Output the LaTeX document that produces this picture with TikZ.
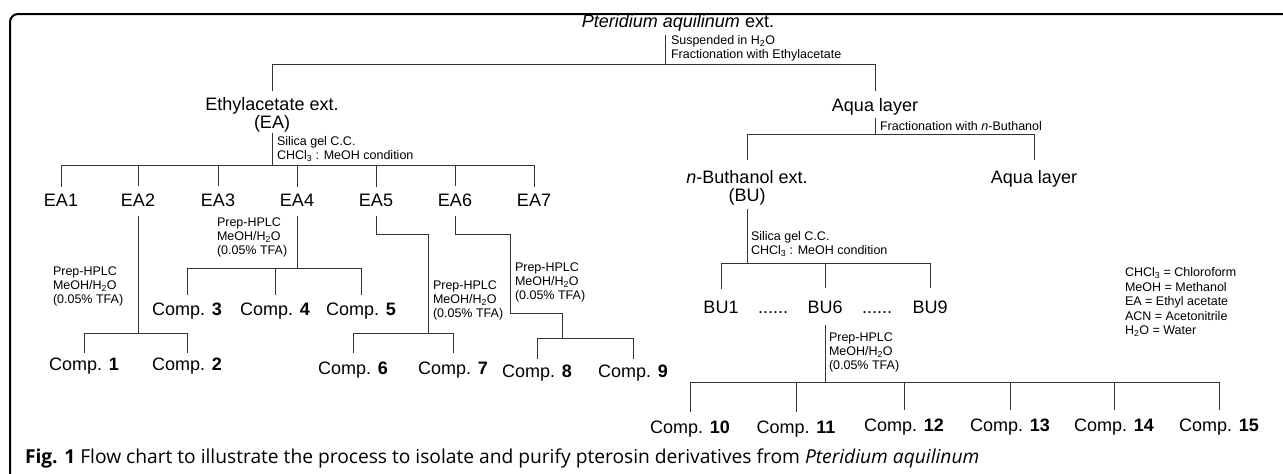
\documentclass[tikz,border=0pt]{standalone}
\usepackage{fontspec}
\setmainfont{Liberation Sans}
\newfontfamily\capfont{Open Sans}

\begin{document}
\begin{tikzpicture}[
      x=1pt, y=-1pt,
      every node/.style={inner sep=0pt, outer sep=0pt},
      big/.style={font=\fontsize{18}{18}\selectfont, anchor=base},
      note/.style={font=\fontsize{12.5}{14}\selectfont, align=left, anchor=west},
      branch/.style={draw=black!80, line width=1pt},
      stub/.style={branch, shorten >=7pt}
    ]
    \useasboundingbox (0,0) rectangle (1283,474);
    \draw[line width=2pt, rounded corners=8pt] (10,480) -- (10,14) -- (1290,14);

    \node[big] (root) at (678,27) {\textit{Pteridium aquilinum} ext.};
    \node[big, align=center, anchor=north] (EA) at (272,97) {Ethylacetate ext.\\(EA)};
    \node[big] (AQ) at (875,111) {Aqua layer};

    \node[big] (EA1) at (61,206) {EA1};
    \node[big] (EA2) at (138,206) {EA2};
    \node[big] (EA3) at (218,206) {EA3};
    \node[big] (EA4) at (297,206) {EA4};
    \node[big] (EA5) at (376,206) {EA5};
    \node[big] (EA6) at (455,206) {EA6};
    \node[big] (EA7) at (534,206) {EA7};

    \node[big] (C1) at (84,370) {Comp. \textbf{1}};
    \node[big] (C2) at (187,370) {Comp. \textbf{2}};
    \node[big] (C3) at (187,315) {Comp. \textbf{3}};
    \node[big] (C4) at (275,315) {Comp. \textbf{4}};
    \node[big] (C5) at (361,315) {Comp. \textbf{5}};
    \node[big] (C6) at (353,374) {Comp. \textbf{6}};
    \node[big] (C7) at (453,374) {Comp. \textbf{7}};
    \node[big] (C8) at (537,377) {Comp. \textbf{8}};
    \node[big] (C9) at (633,377) {Comp. \textbf{9}};

    \node[big, align=center, anchor=north] (BU) at (747,170) {\textit{n}-Buthanol ext.\\(BU)};
    \node[big] (AQ2) at (1034,183) {Aqua layer};
    \node[big] (BU1) at (721,313) {BU1};
    \node[big] (dotsA) at (773,313) {......};
    \node[big] (BU6) at (825,313) {BU6};
    \node[big] (dotsB) at (877,313) {......};
    \node[big] (BU9) at (930,313) {BU9};

    \node[big] (C10) at (690,433) {Comp. \textbf{10}};
    \node[big] (C11) at (796,433) {Comp. \textbf{11}};
    \node[big] (C12) at (904,431) {Comp. \textbf{12}};
    \node[big] (C13) at (1010,431) {Comp. \textbf{13}};
    \node[big] (C14) at (1114,431) {Comp. \textbf{14}};
    \node[big] (C15) at (1219,431) {Comp. \textbf{15}};

    \node[note] (rootnote) at (671,48) {Suspended in H\textsubscript{2}O\\Fractionation with Ethylacetate};
    \node[note] (eanote) at (277,149) {Silica gel C.C.\\CHCl\textsubscript{3} : MeOH condition};
    \node[note] (aqnote) at (880,126) {Fractionation with \textit{n}-Buthanol};
    \node[note] (bunote) at (751,244) {Silica gel C.C.\\CHCl\textsubscript{3} : MeOH condition};
    \node[note] (ea2note) at (53,286) {Prep-HPLC\\MeOH/H\textsubscript{2}O\\(0.05\% TFA)};
    \node[note] (ea4note) at (217,237) {Prep-HPLC\\MeOH/H\textsubscript{2}O\\(0.05\% TFA)};
    \node[note] (ea5note) at (433,300) {Prep-HPLC\\MeOH/H\textsubscript{2}O\\(0.05\% TFA)};
    \node[note] (ea6note) at (515,282) {Prep-HPLC\\MeOH/H\textsubscript{2}O\\(0.05\% TFA)};
    \node[note] (bu6note) at (829,352) {Prep-HPLC\\MeOH/H\textsubscript{2}O\\(0.05\% TFA)};
    \node[note, font=\fontsize{12.5}{14.5}\selectfont] (legend) at (1125,302) {CHCl\textsubscript{3} = Chloroform\\MeOH = Methanol\\EA = Ethyl acetate\\ACN = Acetonitrile\\H\textsubscript{2}O = Water};

    \node[anchor=base west, font=\capfont\fontsize{19.2}{22}\selectfont] (caption) at (25,463) {\textbf{Fig. 1} Flow chart to illustrate the process to isolate and purify pterosin derivatives from \textit{Pteridium aquilinum}};

    \coordinate (rootbar) at (665,64);
    \draw[branch, shorten <=4pt] (root.south -| rootbar) -- (rootbar);
    \draw[stub, shorten >=6pt] (rootbar) -| (EA.north);
    \draw[stub] (rootbar) -| (AQ.north);

    \coordinate (eabar) at (272,165);
    \draw[branch, shorten <=1pt] (EA.south) -- (eabar);
    \draw[stub] (eabar) -| (EA1.north);
    \draw[stub] (eabar) -| (EA2.north);
    \draw[stub] (eabar) -| (EA3.north);
    \draw[stub] (eabar) -| (EA4.north);
    \draw[stub] (eabar) -| (EA5.north);
    \draw[stub] (eabar) -| (EA6.north);
    \draw[stub] (eabar) -| (EA7.north);

    \coordinate (ea2bar) at (138,333);
    \draw[branch, shorten <=10pt] (EA2.south) -- (ea2bar);
    \draw[stub, shorten >=4pt] (ea2bar) -| (C1.north);
    \draw[stub, shorten >=4pt] (ea2bar) -| (C2.north);

    \coordinate (ea4bar) at (297,268);
    \draw[branch, shorten <=10pt] (EA4.south) -- (ea4bar);
    \draw[stub] (ea4bar) -| (C3.north);
    \draw[stub] (ea4bar) -| (C4.north);
    \draw[stub] (ea4bar) -| (C5.north);

    \coordinate (ea5bend) at (428,234);
    \coordinate (ea5bar) at (428,333);
    \draw[branch, shorten <=10pt] (EA5.south) |- (ea5bend) -- (ea5bar);
    \draw[stub, shorten >=8pt] (ea5bar) -| (C6.north);
    \draw[stub, shorten >=8pt] (ea5bar) -| (C7.north);

    \coordinate (ea6bend) at (510,234);
    \coordinate (ea6step) at (562,313);
    \coordinate (ea6bar) at (562,338);
    \draw[branch, shorten <=10pt] (EA6.south) |- (ea6bend) |- (ea6step) -- (ea6bar);
    \draw[stub, shorten >=5pt] (ea6bar) -| (C8.north);
    \draw[stub, shorten >=5pt] (ea6bar) -| (C9.north);

    \coordinate (aqbar) at (875,134);
    \draw[branch, shorten <=3pt] (AQ.south) -- (aqbar);
    \draw[stub, shorten >=10pt] (aqbar) -| (BU.north);
    \draw[stub, shorten >=10pt] (aqbar) -| (AQ2.north);

    \coordinate (bubar) at (747,263);
    \draw[branch, shorten <=4pt] (BU.south) -- (bubar);
    \draw[stub, shorten >=12pt] (bubar) -| (BU1.north);
    \draw[stub, shorten >=12pt] (bubar) -| (BU6.north);
    \draw[stub, shorten >=12pt] (bubar) -| (BU9.north);

    \coordinate (bu6bar) at (825,382);
    \draw[branch, shorten <=12pt] (BU6.south) -- (bu6bar);
    \draw[stub, shorten >=8pt] (bu6bar) -| (C10.north);
    \draw[stub, shorten >=8pt] (bu6bar) -| (C11.north);
    \draw[stub, shorten >=8pt] (bu6bar) -| (C12.north);
    \draw[stub, shorten >=8pt] (bu6bar) -| (C13.north);
    \draw[stub, shorten >=8pt] (bu6bar) -| (C14.north);
    \draw[stub, shorten >=8pt] (bu6bar) -| (C15.north);
\end{tikzpicture}
\end{document}
